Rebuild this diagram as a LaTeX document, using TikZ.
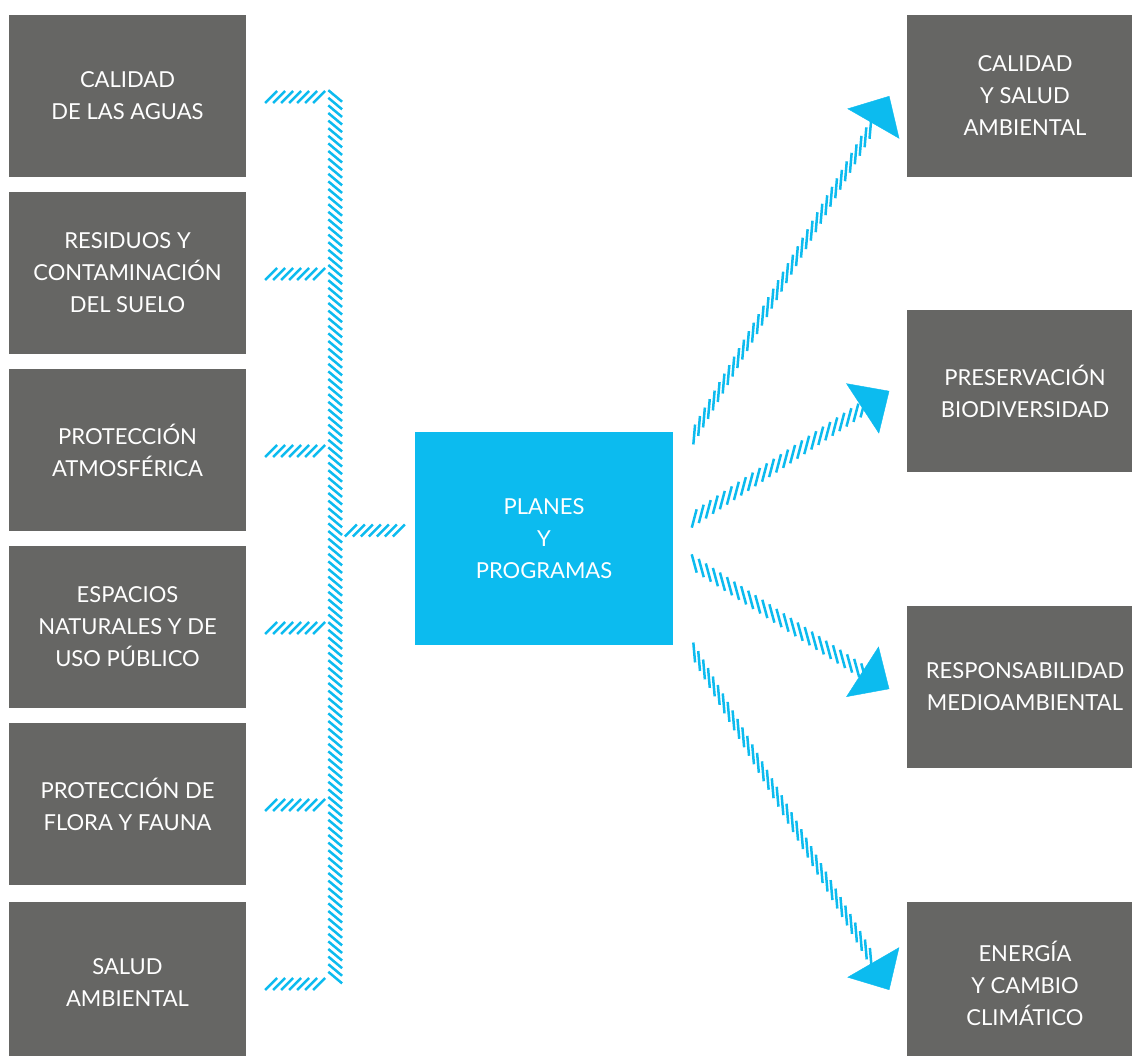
\documentclass[tikz,border=0pt]{standalone}
\usepackage{fontspec}
\setmainfont{Lato}
\usetikzlibrary{arrows.meta,calc,decorations.markings}
\definecolor{boxgray}{RGB}{102,102,100}
\definecolor{planblue}{RGB}{12,187,239}
\tikzset{
  graybox/.style={rectangle, fill=boxgray, text=white, minimum width=237pt, minimum height=162pt,
    inner sep=0pt, align=center, font=\fontsize{22}{32}\selectfont},
  planbox/.style={graybox, fill=planblue, minimum width=258pt, minimum height=213pt},
  hatchstroke/.style={draw=planblue, line width=2.5pt},
  hatched/.style n args={3}{decoration={markings,
      mark=between positions 0 and 1 step #3 with {\draw[hatchstroke] (#1:-#2) -- (#1:#2);}},
    decorate},
  spine/.style={hatched={50}{9pt}{7.6pt}},
  branch/.style={hatched={45}{8.5pt}{8pt}},
  ray/.style={hatched={#1}{9.5pt}{8.4pt}},
  steepray/.style={hatched={#1}{10pt}{9.8pt}},
  raytip/.style={planblue, line width=0.4pt, -{Triangle[length=32pt,width=60pt]}}
}
\begin{document}
\begin{tikzpicture}[x=1pt,y=1pt]
\useasboundingbox (0,0) rectangle (1132,1056);
% left column
\node[graybox] (q1) at (127.5,960) {CALIDAD\\DE LAS AGUAS};
\node[graybox] (q2) at (127.5,783) {RESIDUOS Y\\CONTAMINACIÓN\\DEL SUELO};
\node[graybox] (q3) at (127.5,606) {PROTECCIÓN\\ATMOSFÉRICA};
\node[graybox] (q4) at (127.5,429) {ESPACIOS\\NATURALES Y DE\\USO PÚBLICO};
\node[graybox] (q5) at (127.5,252) {PROTECCIÓN DE\\FLORA Y FAUNA};
\node[graybox] (q6) at (127.5,73) {SALUD\\AMBIENTAL};
% centre
\node[planbox] (plan) at (544,517.5) {PLANES\\Y\\PROGRAMAS};
% right column
\node[graybox] (r1) at (1025,960) {CALIDAD\\Y SALUD\\AMBIENTAL};
\node[graybox] (r2) at (1025,665) {PRESERVACIÓN\\BIODIVERSIDAD};
\node[graybox] (r3) at (1025,369) {RESPONSABILIDAD\\MEDIOAMBIENTAL};
\node[graybox] (r4) at (1025,73) {ENERGÍA\\Y CAMBIO\\CLIMÁTICO};
% bracket
\coordinate (spinetop) at ($(q1.east)+(89,0)$);
\coordinate (spinebot) at ($(q6.east)+(89,2)$);
\draw[spine] (spinetop) -- (spinebot);
\foreach \i in {1,...,6}
  \draw[branch] ($(q\i.east)+(25,-1)$) -- ($(q\i.east)+(75,-1)$);
\draw[branch] ($(plan.west)+(-64,8)$) -- ($(plan.west)+(-16,8)$);
% arrows
\coordinate (s1) at ($(plan.east)+(21,104)$);
\coordinate (s2) at ($(plan.east)+(21,20)$);
\coordinate (s3) at ($(plan.east)+(21,-25)$);
\coordinate (s4) at ($(plan.east)+(21,-114)$);
\coordinate (t1) at ($(r1.west)+(-17,0)$);
\coordinate (t2) at ($(r2.west)+(-17,0)$);
\coordinate (t3) at ($(r3.west)+(-17,-2)$);
\coordinate (t4) at ($(r4.west)+(-17,-7)$);
\draw[steepray=25] (s1) -- ($(t1)!30pt!(s1)$);
\draw[ray=42] (s2) -- ($(t2)!30pt!(s2)$);
\draw[ray=-42] (s3) -- ($(t3)!30pt!(s3)$);
\draw[steepray=-25] (s4) -- ($(t4)!30pt!(s4)$);
\foreach \i in {1,...,4}
  \draw[raytip] ($(t\i)!32pt!(s\i)$) -- (t\i);
\end{tikzpicture}
\end{document}
